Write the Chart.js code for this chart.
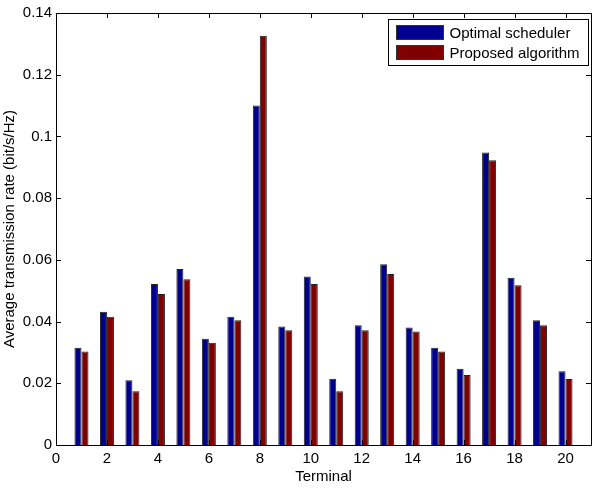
<!DOCTYPE html>
<html>
<head>
<meta charset="utf-8">
<script src="https://cdn.jsdelivr.net/npm/chart.js@4"></script>
<style>
  html, body { margin: 0; padding: 0; background: #fff; }
  canvas { display: block; }
</style>
</head>
<body>
<canvas id="graphique" width="598" height="494"></canvas>
<script>
'use strict';

/* === DONNÉES === */
const TERMINAUX = [1, 2, 3, 4, 5, 6, 7, 8, 9, 10, 11, 12, 13, 14, 15, 16, 17, 18, 19, 20];

const OPTIMAL = [0.0315, 0.0432, 0.0210, 0.0522, 0.0570, 0.0344, 0.0416, 0.1100, 0.0384, 0.0546,
                 0.0215, 0.0388, 0.0586, 0.0381, 0.0315, 0.0247, 0.0948, 0.0542, 0.0404, 0.0239];

const PROPOSE = [0.0303, 0.0416, 0.0174, 0.0489, 0.0537, 0.0331, 0.0404, 0.1326, 0.0372, 0.0522,
                 0.0174, 0.0372, 0.0554, 0.0368, 0.0303, 0.0227, 0.0923, 0.0518, 0.0388, 0.0214];

const TICKS_X = [0, 2, 4, 6, 8, 10, 12, 14, 16, 18, 20];
const TICKS_Y = [0, 0.02, 0.04, 0.06, 0.08, 0.1, 0.12, 0.14];

const LIBELLES = ['Optimal scheduler', 'Proposed algorithm'];
const COULEURS = ['#00008f', '#800000'];

const POLICE = 'Liberation Sans, Arial, Helvetica, sans-serif';

/* === PLUGINS === */

// cadre complet + graduations vers l'intérieur, façon MATLAB
const cadreAxes = {
  id: 'cadreAxes',
  afterDraw(chart) {
    const { ctx, chartArea: a, scales } = chart;
    const L = 5;
    ctx.save();
    ctx.strokeStyle = '#000';
    ctx.lineWidth = 1;
    ctx.beginPath();
    ctx.rect(Math.round(a.left) + 0.5, Math.round(a.top) + 0.5,
             Math.round(a.right - a.left), Math.round(a.bottom - a.top));
    TICKS_X.forEach(v => {
      const x = Math.round(scales.x.getPixelForValue(v)) + 0.5;
      ctx.moveTo(x, a.bottom); ctx.lineTo(x, a.bottom - L);
      ctx.moveTo(x, a.top); ctx.lineTo(x, a.top + L);
    });
    TICKS_Y.forEach(v => {
      const y = Math.round(scales.y.getPixelForValue(v)) + 0.5;
      ctx.moveTo(a.left, y); ctx.lineTo(a.left + L, y);
      ctx.moveTo(a.right, y); ctx.lineTo(a.right - L, y);
    });
    ctx.stroke();
    ctx.restore();
  }
};

// légende encadrée dans le coin haut droit
const legendeEncadree = {
  id: 'legendeEncadree',
  afterDraw(chart) {
    const { ctx, chartArea: a } = chart;
    const larg = 200, haut = 46;
    const x0 = Math.round(a.right - 3 - larg) + 0.5;
    const y0 = Math.round(a.top + 6) + 0.5;
    ctx.save();
    ctx.fillStyle = '#fff';
    ctx.fillRect(x0, y0, larg, haut);
    ctx.strokeStyle = '#000';
    ctx.lineWidth = 1;
    ctx.strokeRect(x0, y0, larg, haut);
    ctx.font = '15px ' + POLICE;
    ctx.textBaseline = 'middle';
    chart.data.datasets.forEach((ds, i) => {
      const yc = y0 + 13 + i * 20;
      ctx.fillStyle = ds.backgroundColor;
      ctx.fillRect(x0 + 8, yc - 7, 47, 14);
      ctx.strokeStyle = '#333';
      ctx.strokeRect(x0 + 8, yc - 7, 47, 14);
      ctx.fillStyle = '#000';
      ctx.fillText(ds.label, x0 + 61, yc + 1);
    });
    ctx.restore();
  }
};

/* === GRAPHIQUE === */

function construireJeu(libelle, valeurs, couleur) {
  return {
    label: libelle,
    data: TERMINAUX.map((t, i) => ({ x: t, y: valeurs[i] })),
    backgroundColor: couleur,
    borderColor: '#222',
    borderWidth: 1,
    categoryPercentage: 0.55,
    barPercentage: 1
  };
}

function formaterY(v) {
  return String(+v.toFixed(4));
}

Chart.defaults.font.family = POLICE;
Chart.defaults.font.size = 15;
Chart.defaults.color = '#000';

new Chart(document.getElementById('graphique'), {
  type: 'bar',
  data: {
    datasets: [
      construireJeu(LIBELLES[0], OPTIMAL, COULEURS[0]),
      construireJeu(LIBELLES[1], PROPOSE, COULEURS[1])
    ]
  },
  options: {
    responsive: false,
    animation: false,
    layout: { padding: { left: 0, right: 7, top: 11, bottom: 0 } },
    plugins: {
      legend: { display: false },
      tooltip: { enabled: false }
    },
    scales: {
      x: {
        type: 'linear',
        min: 0,
        max: 21,
        offset: false,
        grid: { display: false, drawTicks: false },
        border: { display: false },
        afterBuildTicks: s => { s.ticks = TICKS_X.map(v => ({ value: v })); },
        afterFit: s => { s.height = 49; },
        ticks: { padding: 5, maxRotation: 0, autoSkip: false },
        title: { display: true, text: 'Terminal', padding: { top: 0, bottom: 8 } }
      },
      y: {
        min: 0,
        max: 0.14,
        grid: { display: false, drawTicks: false },
        border: { display: false },
        afterBuildTicks: s => { s.ticks = TICKS_Y.map(v => ({ value: v })); },
        afterFit: s => { s.width = 56; },
        ticks: { padding: 4, callback: formaterY },
        title: { display: true, text: 'Average transmission rate (bit/s/Hz)', padding: { top: 1, bottom: 0 } }
      }
    }
  },
  plugins: [cadreAxes, legendeEncadree]
});
</script>
</body>
</html>
